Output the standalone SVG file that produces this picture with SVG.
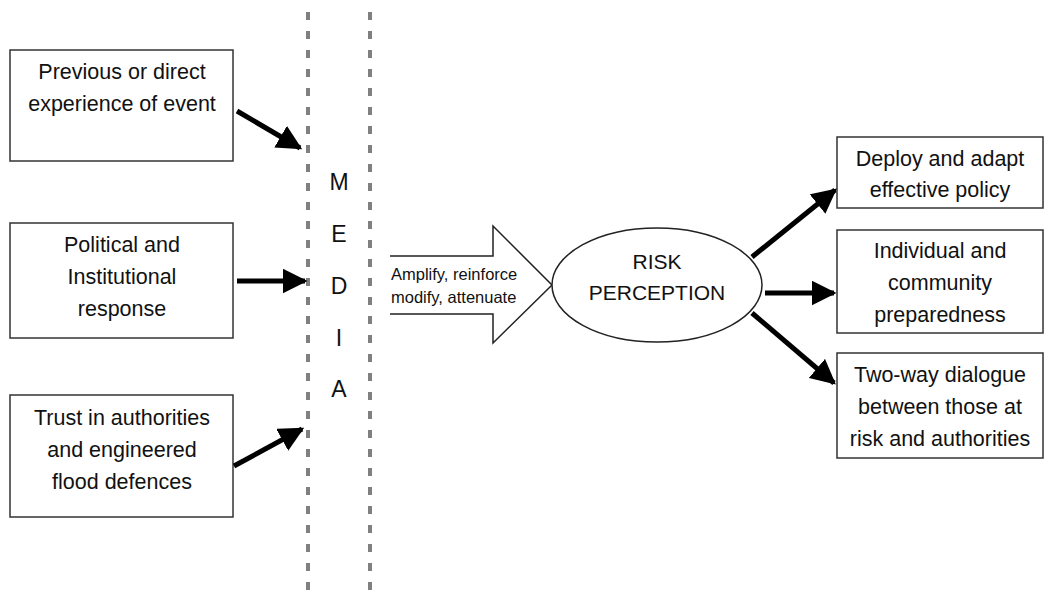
<svg xmlns="http://www.w3.org/2000/svg" width="1046" height="593" viewBox="0 0 1046 593">
<style>
.box{fill:#fff;stroke:#333;stroke-width:1.5}
.t{font-family:"Liberation Sans",Arial,sans-serif;font-size:21.5px;fill:#111;text-anchor:middle}
.m{font-family:"Liberation Sans",Arial,sans-serif;font-size:23px;fill:#111;text-anchor:middle}
.s{font-family:"Liberation Sans",Arial,sans-serif;font-size:16.5px;fill:#111}
.dash{stroke:#808080;stroke-width:4;stroke-dasharray:8 11;fill:none}
.conn{stroke:#000;stroke-width:5;fill:none;marker-end:url(#ah)}
</style>
<defs>
<marker id="ah" markerWidth="5" markerHeight="5" refX="4.5" refY="2.5" orient="auto" markerUnits="strokeWidth">
<path d="M0,0 L5,2.5 L0,5 Z" fill="#000"/>
</marker>
</defs>
<rect width="1046" height="593" fill="#fff"/>
<g id="media">
<line class="dash" x1="308" y1="12" x2="308" y2="593"/>
<line class="dash" x1="370" y1="12" x2="370" y2="593"/>
<text class="m" x="339" y="190">M</text>
<text class="m" x="339" y="242">E</text>
<text class="m" x="339" y="294">D</text>
<text class="m" x="339" y="346">I</text>
<text class="m" x="339" y="397">A</text>
</g>
<g id="n1">
<rect class="box" x="10" y="50" width="223" height="111"/>
<text class="t" x="122" y="79">Previous or direct</text>
<text class="t" x="122" y="111">experience of event</text>
</g>
<g id="n2">
<rect class="box" x="10" y="223" width="223" height="115"/>
<text class="t" x="122" y="252">Political and</text>
<text class="t" x="122" y="284">Institutional</text>
<text class="t" x="122" y="316">response</text>
</g>
<g id="n3">
<rect class="box" x="10" y="395" width="223" height="122"/>
<text class="t" x="122" y="425">Trust in authorities</text>
<text class="t" x="122" y="457">and engineered</text>
<text class="t" x="122" y="489">flood defences</text>
</g>
<g id="blockarrow">
<path d="M390,256 L493,256 L493,226 L552,285 L493,343 L493,314 L390,314" fill="#fff" stroke="#222" stroke-width="1.5"/>
<text class="s" x="391" y="280">Amplify, reinforce</text>
<text class="s" x="391" y="303">modify, attenuate</text>
</g>
<g id="risk">
<ellipse cx="657" cy="285" rx="105" ry="57" fill="#fff" stroke="#222" stroke-width="1.5"/>
<text class="t" x="657" y="269" style="font-size:21px">RISK</text>
<text class="t" x="657" y="300" style="font-size:21px">PERCEPTION</text>
</g>
<g id="o1">
<rect class="box" x="837" y="137" width="206" height="71"/>
<text class="t" x="940" y="166">Deploy and adapt</text>
<text class="t" x="940" y="197">effective policy</text>
</g>
<g id="o2">
<rect class="box" x="837" y="230" width="206" height="103"/>
<text class="t" x="940" y="258">Individual and</text>
<text class="t" x="940" y="290">community</text>
<text class="t" x="940" y="322">preparedness</text>
</g>
<g id="o3">
<rect class="box" x="837" y="353" width="206" height="105"/>
<text class="t" x="940" y="382">Two-way dialogue</text>
<text class="t" x="940" y="414">between those at</text>
<text class="t" x="940" y="446">risk and authorities</text>
</g>
<g id="connectors">
<line class="conn" x1="237" y1="111" x2="300" y2="148"/>
<line class="conn" x1="237" y1="281" x2="305" y2="281"/>
<line class="conn" x1="234" y1="466" x2="302" y2="429"/>
<line class="conn" x1="752" y1="257" x2="835" y2="190"/>
<line class="conn" x1="765" y1="293" x2="834" y2="293"/>
<line class="conn" x1="752" y1="313" x2="834" y2="383"/>
</g>
</svg>
